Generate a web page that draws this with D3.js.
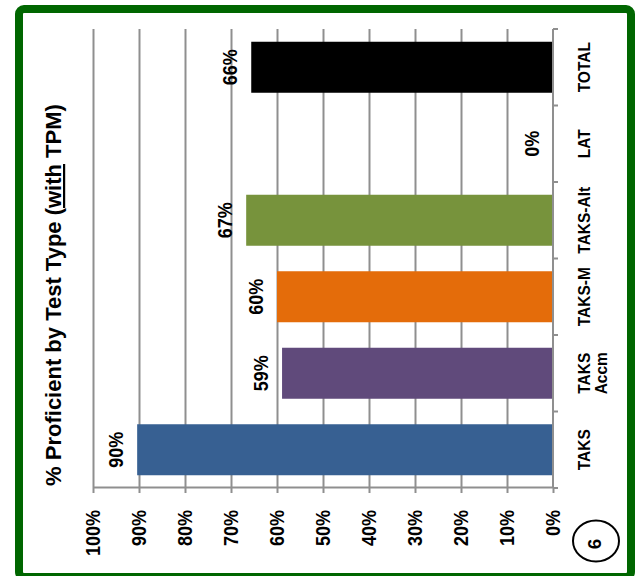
<!DOCTYPE html>
<html>
<head>
<meta charset="utf-8">
<script src="https://cdn.jsdelivr.net/npm/d3@7"></script>
<style>
  body { margin: 0; background: #fff; }
  text { font-family: "Liberation Sans", Arial, sans-serif; font-weight: bold; fill: #000; }
</style>
</head>
<body>
<script>
;(function() {

  // chart data
  var categories = ["TAKS", "TAKS Accm", "TAKS-M", "TAKS-Alt", "LAT", "TOTAL"];
  var tickLabels = [["TAKS"], ["TAKS", "Accm"], ["TAKS-M"], ["TAKS-Alt"], ["LAT"], ["TOTAL"]];
  var values = [0.904, 0.589, 0.60, 0.667, 0, 0.656];
  var barColors = ["#376092", "#604a7b", "#e46c0a", "#77933c", "#4f81bd", "#000000"];
  var valueTicks = [0, 0.1, 0.2, 0.3, 0.4, 0.5, 0.6, 0.7, 0.8, 0.9, 1.0];

  var width = 639;
  var height = 576;
  var gray = "#8f8f8f";
  var pct = d3.format(".0%");

  var svg = d3.select("body")
    .append("svg")
    .attr("width", width)
    .attr("height", height);

  // green frame
  svg.append("rect")
    .attr("x", 19).attr("y", 9)
    .attr("width", 612).attr("height", 568)
    .attr("rx", 5)
    .style("fill", "#fff")
    .style("stroke", "#006600")
    .style("stroke-width", 8);

  // the whole chart is drawn upright and turned a quarter left
  var canvas = svg.append("g")
    .attr("transform", "translate(0," + height + ") rotate(-90)");

  var x = d3.scaleBand()
    .domain(categories)
    .range([88, 547])
    .paddingInner(1 / 3)
    .paddingOuter(1 / 6);

  var y = d3.scaleLinear()
    .domain([0, 1])
    .range([553, 93]);

  // gridlines
  canvas.append("g")
    .attr("transform", "translate(88,0)")
    .call(d3.axisLeft(y).tickValues(valueTicks.slice(1)).tickSize(-(547 - 88)).tickFormat(""))
    .call(function(g) { g.select(".domain").remove(); })
    .selectAll("line")
    .style("stroke", gray)
    .style("stroke-width", 2);

  // value axis
  var yAxis = canvas.append("g")
    .attr("transform", "translate(88,0)")
    .call(d3.axisLeft(y).tickValues(valueTicks).tickSize(5).tickSizeOuter(0).tickPadding(17).tickFormat(pct));
  yAxis.select(".domain").style("stroke", gray).style("stroke-width", 2);
  yAxis.selectAll("line").style("stroke", gray).style("stroke-width", 2);
  yAxis.selectAll("text")
    .attr("transform", "scale(1,1.1)")
    .style("font-size", "18px")
    .style("font-family", "'Liberation Sans', Arial, sans-serif")
    .style("font-weight", "bold");

  // bars
  canvas.selectAll(".bar")
    .data(values)
    .enter().append("rect")
    .attr("class", "bar")
    .attr("x", function(d, i) { return x(categories[i]); })
    .attr("width", x.bandwidth())
    .attr("y", function(d) { return y(d); })
    .attr("height", function(d) { return y(0) - y(d); })
    .style("fill", function(d, i) { return barColors[i]; });

  // category axis, ticks between the bars
  var bounds = d3.range(categories.length + 1).map(function(i) { return x.range()[0] + i * x.step(); });
  canvas.append("line")
    .attr("x1", 88).attr("x2", 547)
    .attr("y1", y(0)).attr("y2", y(0))
    .style("stroke", gray).style("stroke-width", 2);
  canvas.selectAll(".ctick")
    .data(bounds)
    .enter().append("line")
    .attr("class", "ctick")
    .attr("x1", function(d) { return d; }).attr("x2", function(d) { return d; })
    .attr("y1", y(0)).attr("y2", y(0) + 5)
    .style("stroke", gray).style("stroke-width", 2);

  var catText = canvas.selectAll(".clabel")
    .data(tickLabels)
    .enter().append("text")
    .attr("class", "clabel")
    .attr("text-anchor", "middle")
    .attr("transform", function(d, i) {
      return "translate(" + (x(categories[i]) + x.bandwidth() / 2) + ",590) scale(1,1.07)";
    })
    .style("font-size", "15.5px");
  catText.selectAll("tspan")
    .data(function(d) { return d; })
    .enter().append("tspan")
    .attr("x", 0)
    .attr("y", function(d, i) { return i * 16; })
    .text(function(d) { return d; });

  // value labels
  canvas.selectAll(".vlabel")
    .data(values)
    .enter().append("text")
    .attr("class", "vlabel")
    .attr("text-anchor", "middle")
    .attr("transform", function(d, i) {
      return "translate(" + (x(categories[i]) + x.bandwidth() / 2) + "," + (y(d) - 14) + ") scale(1,1.1)";
    })
    .style("font-size", "18px")
    .text(function(d) { return pct(d); });

  // title
  var title = canvas.append("text")
    .attr("x", 281)
    .attr("y", 61)
    .attr("text-anchor", "middle")
    .style("font-size", "22px");
  title.append("tspan").text("% Proficient by Test Type (");
  title.append("tspan").style("text-decoration", "underline").text("with");
  title.append("tspan").text(" TPM)");

  // page number in a ring
  svg.append("ellipse")
    .attr("cx", 596).attr("cy", 541)
    .attr("rx", 23).attr("ry", 20.5)
    .style("fill", "none")
    .style("stroke", "#000")
    .style("stroke-width", 2);
  svg.append("text")
    .attr("transform", "translate(601,544) rotate(-90)")
    .attr("text-anchor", "middle")
    .style("font-size", "19px")
    .text("6");

})();
</script>
</body>
</html>
